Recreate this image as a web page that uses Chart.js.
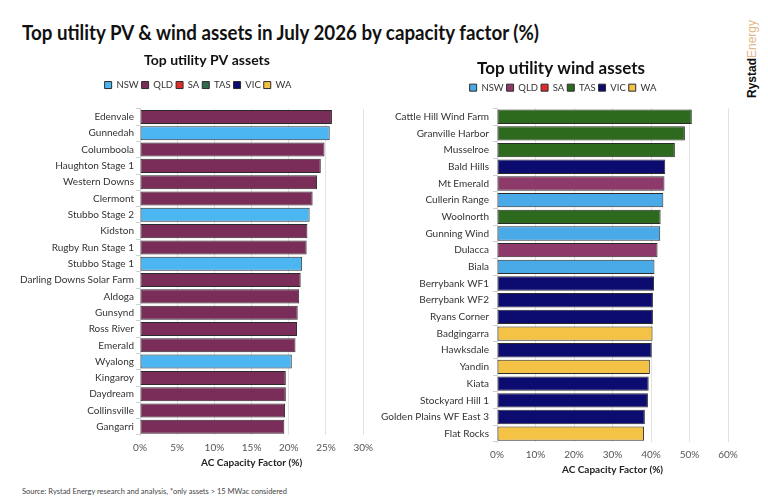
<!DOCTYPE html>
<html>
<head>
<meta charset="utf-8">
<script src="https://cdn.jsdelivr.net/npm/chart.js@4.4.1/dist/chart.umd.min.js"></script>
<style>
html,body{margin:0;padding:0;background:#fff;}
body{width:768px;height:500px;position:relative;overflow:hidden;font-family:Lato,"Noto Sans",sans-serif;}
#title{position:absolute;left:22px;top:19px;font-size:21px;font-weight:700;color:#111;white-space:nowrap;transform-origin:0 0;}
#footer{position:absolute;left:22px;top:487px;font-size:7.5px;color:#444;white-space:nowrap;}
#logo{position:absolute;left:712px;top:52px;width:80px;text-align:center;font-size:12px;white-space:nowrap;transform:rotate(-90deg);transform-origin:50% 50%;font-family:"Liberation Sans",Arial,sans-serif;}
#logo b{color:#111;}
#logo span{color:#e2b98a;}
#pv{position:absolute;left:0;top:40px;}
#wind{position:absolute;left:380px;top:40px;}
</style>
</head>
<body>
<div id="title">Top utility PV &amp; wind assets in July 2026 by capacity factor (%)</div>
<div id="logo"><b>Rystad</b><span>Energy</span></div>
<canvas id="pv" width="380" height="440"></canvas>
<canvas id="wind" width="388" height="440"></canvas>
<div id="footer">Source: Rystad Energy research and analysis, *only assets &gt; 15 MWac considered</div>
<script>
const states = ['NSW', 'QLD', 'SA', 'TAS', 'VIC', 'WA'];
const pvColors = ['#4cb6f3', '#7a2d58', '#e02b2b', '#2e6b4a', '#0b0b6e', '#f2c044'];
const windColors = ['#4aaae8', '#8d3a6a', '#e02b2b', '#2d6a1e', '#0b0b70', '#f4c244'];

const pvCategories = ['Edenvale', 'Gunnedah', 'Columboola', 'Haughton Stage 1', 'Western Downs', 'Clermont', 'Stubbo Stage 2', 'Kidston', 'Rugby Run Stage 1', 'Stubbo Stage 1', 'Darling Downs Solar Farm', 'Aldoga', 'Gunsynd', 'Ross River', 'Emerald', 'Wyalong', 'Kingaroy', 'Daydream', 'Collinsville', 'Gangarri'];
const pvValues = [25.8, 25.5, 24.8, 24.3, 23.8, 23.2, 22.8, 22.5, 22.4, 21.8, 21.6, 21.4, 21.2, 21.1, 20.9, 20.4, 19.6, 19.6, 19.5, 19.4];
const pvStates = ['QLD', 'NSW', 'QLD', 'QLD', 'QLD', 'QLD', 'NSW', 'QLD', 'QLD', 'NSW', 'QLD', 'QLD', 'QLD', 'QLD', 'QLD', 'NSW', 'QLD', 'QLD', 'QLD', 'QLD'];
const pvTicks = [0, 5, 10, 15, 20, 25, 30];

const windCategories = ['Cattle Hill Wind Farm', 'Granville Harbor', 'Musselroe', 'Bald Hills', 'Mt Emerald', 'Cullerin Range', 'Woolnorth', 'Gunning Wind', 'Dulacca', 'Biala', 'Berrybank WF1', 'Berrybank WF2', 'Ryans Corner', 'Badgingarra', 'Hawksdale', 'Yandin', 'Kiata', 'Stockyard Hill 1', 'Golden Plains WF East 3', 'Flat Rocks'];
const windValues = [50.6, 48.8, 46.2, 43.7, 43.5, 43.2, 42.5, 42.4, 41.7, 40.9, 40.8, 40.5, 40.5, 40.4, 40.2, 39.7, 39.4, 39.2, 38.4, 38.2];
const windStates = ['TAS', 'TAS', 'TAS', 'VIC', 'QLD', 'NSW', 'TAS', 'NSW', 'QLD', 'NSW', 'VIC', 'VIC', 'VIC', 'WA', 'VIC', 'WA', 'VIC', 'VIC', 'VIC', 'WA'];
const windTicks = [0, 10, 20, 30, 40, 50, 60];

// fit main title width
(function(){
  const t = document.getElementById('title');
  const w = t.getBoundingClientRect().width;
  t.style.transform = 'scaleX(' + (517 / w) + ')';
})();

function buildDatasets(values, stArr, colors) {
  return states.map((s, i) => ({
    label: s,
    data: values.map((v, j) => stArr[j] === s ? v : null),
    backgroundColor: colors[i],
    borderColor: '#2b2b2b',
    borderWidth: 1,
    borderSkipped: false,
    barPercentage: 0.86,
    categoryPercentage: 1.0
  }));
}

function boxPlugin(cfg) {
  return {
    id: 'boxTweaks',
    beforeLayout(chart) {
      const l = chart.legend;
      if (l && !l._patched) {
        const orig = l.fit.bind(l);
        l.fit = function () { orig(); this.height = cfg.legendHeight; };
        l._patched = true;
      }
    },
    afterLayout(chart) {
      const t = chart.titleBlock;
      if (t) { const dx = cfg.titleX - (t.left + t.right) / 2; t.left += dx; t.right += dx; }
      const l = chart.legend;
      if (l) { const dx = cfg.legendX - (l.left + l.right) / 2; l.left += dx; l.right += dx; }
    }
  };
}

function makeChart(id, cats, values, stArr, colors, ticks, cfg) {
  const maxV = ticks[ticks.length - 1];
  return new Chart(document.getElementById(id), {
    type: 'bar',
    data: { labels: cats, datasets: buildDatasets(values, stArr, colors) },
    plugins: [boxPlugin(cfg)],
    options: {
      indexAxis: 'y',
      responsive: false,
      animation: false,
      layout: { padding: cfg.padding },
      plugins: {
        title: {
          display: true,
          text: cfg.title,
          color: '#111',
          font: { family: 'Lato', size: cfg.titleSize, weight: 'bold' },
          padding: cfg.titlePadding
        },
        legend: {
          display: true,
          labels: {
            boxWidth: 7, boxHeight: 7,
            color: '#333',
            font: { family: 'Lato', size: 9.5 },
            padding: 3
          }
        },
        tooltip: { enabled: false }
      },
      scales: {
        x: {
          stacked: true,
          min: 0, max: maxV,
          afterBuildTicks(scale) { scale.ticks = ticks.map(v => ({ value: v })); },
          ticks: {
            color: '#555',
            font: { family: 'Lato', size: 10 },
            padding: 7,
            callback: v => v + '%'
          },
          grid: { color: '#e2e2e2', drawTicks: false },
          border: { display: false },
          title: {
            display: true,
            text: 'AC Capacity Factor (%)',
            color: '#222',
            font: { family: 'Lato', size: 10, weight: 'bold' },
            padding: { top: -4, bottom: 0 }
          }
        },
        y: {
          stacked: true,
          afterFit(scale) { scale.width = cfg.yWidth; },
          ticks: {
            color: '#333',
            font: { family: 'Lato', size: 10 },
            padding: cfg.yTickPad,
            autoSkip: false
          },
          grid: { drawOnChartArea: false, drawTicks: true, tickLength: 4, color: '#cfcfcf' },
          border: { color: '#d8d8d8' }
        }
      }
    }
  });
}

makeChart('pv', pvCategories, pvValues, pvStates, pvColors, pvTicks, {
  title: 'Top utility PV assets', titleSize: 14,
  titlePadding: { top: 11.6, bottom: 8.9 },
  legendHeight: 31.5,
  titleX: 207, legendX: 198,
  padding: { left: 0, right: 16, top: 0, bottom: 11 },
  yWidth: 140, yTickPad: 2
});

makeChart('wind', windCategories, windValues, windStates, windColors, windTicks, {
  title: 'Top utility wind assets', titleSize: 17,
  titlePadding: { top: 18.5, bottom: 1 },
  legendHeight: 28.5,
  titleX: 181, legendX: 183,
  padding: { left: 0, right: 40, top: 0, bottom: 4 },
  yWidth: 117, yTickPad: 4
});
</script>
</body>
</html>
